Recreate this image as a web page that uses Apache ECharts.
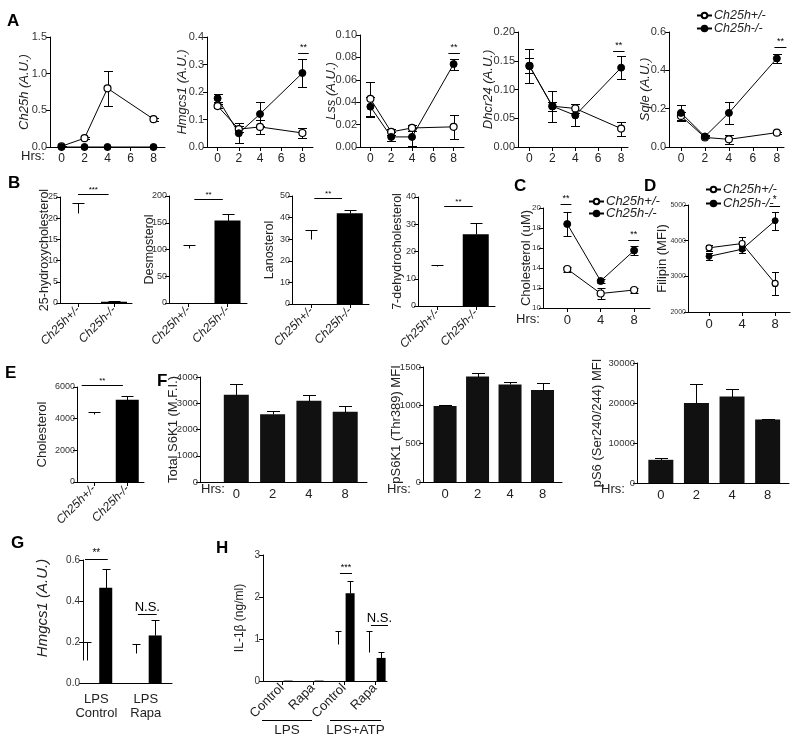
<!DOCTYPE html>
<html><head><meta charset="utf-8">
<script src="https://cdn.jsdelivr.net/npm/echarts@6/dist/echarts.min.js"></script>
<style>html,body{margin:0;padding:0;background:#fff}#c{width:800px;height:741px}</style>
</head><body><div id="c"></div>
<script>
// ================= DATA =================
const hrsA = [0, 2, 4, 8];
const hrsA_ticks = [0, 2, 4, 6, 8];
const ch25hHet = [0.01, 0.12, 0.80, 0.38];
const ch25hHetErr = [0.005, 0.015, 0.24, 0.02];
const ch25hKo = [0, 0, 0, 0];
const ch25hKoErr = [0, 0, 0, 0];
const hmgcs1Het = [0.149, 0.065, 0.073, 0.051];
const hmgcs1HetErr = [0.006, 0.012, 0.027, 0.017];
const hmgcs1Ko = [0.177, 0.05, 0.12, 0.269];
const hmgcs1KoErr = [0.014, 0.037, 0.045, 0.05];
const lssHet = [0.043, 0.0135, 0.017, 0.018];
const lssHetErr = [0.015, 0.003, 0.003, 0.011];
const lssKo = [0.036, 0.009, 0.009, 0.074];
const lssKoErr = [0.009, 0.004, 0.008, 0.005];
const dhcr24Het = [0.141, 0.071, 0.067, 0.032];
const dhcr24HetErr = [0.013, 0.008, 0.008, 0.012];
const dhcr24Ko = [0.141, 0.071, 0.055, 0.138];
const dhcr24KoErr = [0.03, 0.027, 0.019, 0.02];
const sqleHet = [0.162, 0.05, 0.04, 0.075];
const sqleHetErr = [0.022, 0.005, 0.022, 0.005];
const sqleKo = [0.178, 0.055, 0.178, 0.462];
const sqleKoErr = [0.04, 0.006, 0.059, 0.022];

const genotypes = ['Ch25h+/-', 'Ch25h-/-'];
const hydroxyChol = [21.3, 0.3];
const hydroxyCholErr = [2.4, 0.1];
const desmosterol = [103, 154];
const desmosterolErr = [5, 12];
const lanosterol = [30, 42];
const lanosterolErr = [4.3, 1.5];
const dehydroChol = [14.7, 26.3];
const dehydroCholErr = [0.4, 4];

const hrsC = [0, 4, 8];
const cholHet = [13.9, 11.45, 11.8];
const cholHetErr = [0.25, 0.55, 0.25];
const cholKo = [18.4, 12.7, 15.75];
const cholKoErr = [1.2, 0.2, 0.45];
const filipinHet = [3800, 3920, 2800];
const filipinHetErr = [90, 180, 330];
const filipinKo = [3560, 3760, 4560];
const filipinKoErr = [90, 100, 250];

const cholE = [4300, 5200];
const cholEErr = [100, 250];

const hrsF = ['0', '2', '4', '8'];
const totalS6K1 = [3320, 2580, 3100, 2680];
const totalS6K1Err = [430, 110, 230, 200];
const pS6K1 = [990, 1375, 1272, 1200];
const pS6K1Err = [8, 50, 28, 88];
const pS6 = [5800, 20000, 21600, 15900];
const pS6Err = [350, 4700, 1800, 200];

const groupsG = ['LPS\nControl', 'LPS\nRapa'];
const hmgcs1GHet = [0.11, 0.145];
const hmgcs1GHetErr = [0.09, 0.045];
const hmgcs1GKo = [0.465, 0.232];
const hmgcs1GKoErr = [0.09, 0.074];

const groupsH = ['Control', 'Rapa', 'Control', 'Rapa'];
const treatH = ['LPS', 'LPS+ATP'];
const il1bHet = [0, 0, 0.88, 0.69];
const il1bHetErr = [0, 0, 0.31, 0.51];
const il1bKo = [0.01, 0.01, 2.09, 0.55];
const il1bKoErr = [0, 0, 0.29, 0.14];

// ================= CHART =================
const FONT = '"Liberation Sans Narrow", "Arial Narrow", "Liberation Sans", Arial, sans-serif';
const LFONT = '"Liberation Sans", Arial, Helvetica, sans-serif';
const chart = echarts.init(document.getElementById('c'), null, {renderer: 'canvas'});
const grids = [], xAxes = [], yAxes = [], series = [];

function addPanel(o) {
  const i = grids.length;
  const [l, t, w, h] = o.rect;
  grids.push({left: l, top: t, width: w, height: h, containLabel: false, outerBoundsMode: 'none'});
  const xl = o.xLabels || o.xTicks.map(String);
  xAxes.push({
    gridIndex: i, type: 'value', min: o.xMin, max: o.xMax,
    splitLine: {show: false},
    axisLine: {show: true, onZero: false, lineStyle: {color: '#000', width: 1}},
    axisTick: {show: o.xTickShow !== false, customValues: o.xTicks, length: 4, lineStyle: {color: '#000'}},
    axisLabel: {
      customValues: o.xTicks,
      formatter: (v) => { const k = o.xTicks.findIndex(t => Math.abs(t - v) < 1e-9); return k >= 0 ? xl[k] : ''; },
      fontSize: o.xFont || 12, color: '#222', fontFamily: FONT, rotate: o.xRotate || 0,
      fontStyle: o.xItalic ? 'italic' : 'normal', margin: o.xMargin || 6, lineHeight: o.xLineHeight || undefined
    }
  });
  yAxes.push({
    gridIndex: i, type: 'value', min: o.yMin, max: o.yMax, interval: o.yInt,
    splitLine: {show: false},
    axisLine: {show: true, onZero: false, lineStyle: {color: '#000', width: 1}},
    axisTick: {show: true, length: 4, lineStyle: {color: '#000'}},
    axisLabel: {fontSize: o.yFont || 11, color: '#333', fontFamily: FONT, margin: o.yMargin || 3,
      formatter: v => o.yDec != null ? v.toFixed(o.yDec) : String(v)},
    name: o.yName || '', nameLocation: 'middle', nameGap: o.yGap || 30, nameRotate: 90, nameMoveOverlap: false,
    nameTextStyle: {fontSize: o.yNameFont || 13, fontStyle: o.yItalic ? 'italic' : 'normal', color: '#222', fontFamily: FONT}
  });
  return i;
}

function errBars(i, xs, m, e, cap, upper) {
  series.push({
    type: 'custom', xAxisIndex: i, yAxisIndex: i, z: 3, silent: true, animation: false,
    encode: {x: 0, y: 1},
    data: xs.map((x, k) => [x, m[k], e[k]]),
    renderItem: (params, api) => {
      const x = api.value(0), v = api.value(1), d = api.value(2);
      if (!d) return null;
      const top = api.coord([x, v + d]), bot = api.coord([x, upper ? v : v - d]);
      const hc = cap / 2, st = {stroke: '#000', lineWidth: 1};
      const cx = Math.round(top[0]) + 0.5;
      const ty = Math.round(top[1]) + 0.5, by = Math.round(bot[1]) + 0.5;
      const ch = [
        {type: 'line', shape: {x1: cx, y1: ty, x2: cx, y2: by}, style: st},
        {type: 'line', shape: {x1: cx - hc, y1: ty, x2: cx + hc, y2: ty}, style: st}
      ];
      if (!upper) ch.push({type: 'line', shape: {x1: cx - hc, y1: by, x2: cx + hc, y2: by}, style: st});
      return {type: 'group', children: ch};
    }
  });
}

function sig(i, items, font) {
  series.push({
    type: 'custom', xAxisIndex: i, yAxisIndex: i, z: 5, silent: true, animation: false,
    encode: {x: 0, y: 2},
    data: items.map(it => [it[0], it[1], it[2]]),
    renderItem: (params, api) => {
      const a = api.coord([api.value(0), api.value(2)]), b = api.coord([api.value(1), api.value(2)]);
      const y = Math.round(a[1]) + 0.5;
      return {type: 'group', children: [
        {type: 'line', shape: {x1: a[0], y1: y, x2: b[0], y2: y}, style: {stroke: '#000', lineWidth: 1}},
        {type: 'text', x: (a[0] + b[0]) / 2, y: y - 1,
          style: {text: items[params.dataIndex][3], fill: '#000', fontSize: font || 9, fontFamily: FONT, align: 'center', verticalAlign: 'bottom'}}
      ]};
    }
  });
}

function lines(i, xs, het, ko, size) {
  series.push({type: 'line', name: 'Ch25h+/-', xAxisIndex: i, yAxisIndex: i, data: xs.map((x, k) => [x, het[k]]),
    symbol: 'circle', symbolSize: size, lineStyle: {color: '#000', width: 1},
    itemStyle: {color: '#fff', borderColor: '#000', borderWidth: 1.2}, z: 4, animation: false, silent: true});
  series.push({type: 'line', name: 'Ch25h-/-', xAxisIndex: i, yAxisIndex: i, data: xs.map((x, k) => [x, ko[k]]),
    symbol: 'circle', symbolSize: size, lineStyle: {color: '#000', width: 1},
    itemStyle: {color: '#000', borderColor: '#000', borderWidth: 1}, z: 4, animation: false, silent: true});
}

function bars(i, xs, vals, colors, width) {
  series.push({type: 'bar', xAxisIndex: i, yAxisIndex: i, barWidth: width, animation: false, silent: true, z: 2,
    data: xs.map((x, k) => ({value: [x, vals[k]], itemStyle: {color: colors[k]}}))});
}

// ---- Panel A ----
const aPanels = [
  {rect: [50, 37, 115, 110], xMin: -1, xMax: 9, yMax: 1.5, yInt: 0.5, yDec: 1, name: 'Ch25h (A.U.)', gap: 19.5, het: ch25hHet, hetE: ch25hHetErr, ko: ch25hKo, koE: ch25hKoErr, sig: null},
  {rect: [207, 37, 106, 110], xMin: -1, xMax: 9, yMax: 0.4, yInt: 0.1, yDec: 1, name: 'Hmgcs1 (A.U.)', gap: 18.5, het: hmgcs1Het, hetE: hmgcs1HetErr, ko: hmgcs1Ko, koE: hmgcs1KoErr, sig: [7.6, 8.6, 0.342, '**']},
  {rect: [360, 35, 104, 112], xMin: -1, xMax: 9, yMax: 0.1, yInt: 0.02, yDec: 2, name: 'Lss (A.U.)', gap: 22.5, het: lssHet, hetE: lssHetErr, ko: lssKo, koE: lssKoErr, sig: [7.5, 8.6, 0.084, '**']},
  {rect: [518, 32, 110, 115], xMin: -1, xMax: 8.6, yMax: 0.2, yInt: 0.05, yDec: 2, name: 'Dhcr24 (A.U.)', gap: 23.5, het: dhcr24Het, hetE: dhcr24HetErr, ko: dhcr24Ko, koE: dhcr24KoErr, sig: [7.3, 8.3, 0.167, '**']},
  {rect: [669, 32, 115, 115], xMin: -1, xMax: 8.6, yMax: 0.6, yInt: 0.2, yDec: 1, name: 'Sqle (A.U.)', gap: 17.5, het: sqleHet, hetE: sqleHetErr, ko: sqleKo, koE: sqleKoErr, sig: [7.8, 8.8, 0.52, '**']}
];
aPanels.forEach(p => {
  const i = addPanel({rect: p.rect, xMin: p.xMin, xMax: p.xMax, xTicks: hrsA_ticks, xFont: 12,
    yMin: 0, yMax: p.yMax, yInt: p.yInt, yDec: p.yDec, yFont: 11, yName: p.name, yGap: p.gap, yItalic: true, yNameFont: 13});
  errBars(i, hrsA, p.het, p.hetE, 9, false);
  errBars(i, hrsA, p.ko, p.koE, 9, false);
  lines(i, hrsA, p.het, p.ko, 7);
  if (p.sig) sig(i, [p.sig], 9);
});

// ---- Panel B ----
const bPanels = [
  {rect: [60, 197, 72, 106], yMax: 25, yInt: 5, name: '25-hydroxycholesterol', gap: 9, v: hydroxyChol, e: hydroxyCholErr, sig: [0, 0.85, 25.7, '***']},
  {rect: [169, 196, 78, 107], yMax: 200, yInt: 50, name: 'Desmosterol', gap: 13, v: desmosterol, e: desmosterolErr, sig: [0.15, 0.88, 194, '**']},
  {rect: [292, 196, 77, 108], yMax: 50, yInt: 10, name: 'Lanosterol', gap: 16, v: lanosterol, e: lanosterolErr, sig: [0.08, 0.8, 49, '**']},
  {rect: [418, 197, 77, 109], yMax: 40, yInt: 10, name: '7-dehydrocholesterol', gap: 14, v: dehydroChol, e: dehydroCholErr, sig: [0.18, 0.92, 36.7, '**']}
];
bPanels.forEach(p => {
  const i = addPanel({rect: p.rect, xMin: -0.5, xMax: 1.5, xTicks: [0, 1], xLabels: genotypes, xFont: 12, xRotate: 45, xItalic: true, xMargin: 5,
    yMin: 0, yMax: p.yMax, yInt: p.yInt, yFont: 9, yMargin: 2, yName: p.name, yGap: p.gap, yNameFont: 12.5});
  bars(i, [0, 1], p.v, ['#fff', '#000'], 26);
  errBars(i, [0, 1], p.v, p.e, 12, true);
  sig(i, [p.sig], 8);
});

// ---- Panel C ----
{
  const i = addPanel({rect: [543, 208, 107, 100], xMin: -2.9, xMax: 9.9, xTicks: hrsC, xFont: 13,
    yMin: 10, yMax: 20, yInt: 2, yFont: 8, yMargin: 2, yName: 'Cholesterol (uM)', yGap: 10, yNameFont: 13});
  errBars(i, hrsC, cholHet, cholHetErr, 8, false);
  errBars(i, hrsC, cholKo, cholKoErr, 8, false);
  lines(i, hrsC, cholHet, cholKo, 7);
  sig(i, [[-0.8, 0.5, 20.4, '**'], [7.3, 8.6, 16.8, '**']], 9);
}
// ---- Panel D ----
{
  const i = addPanel({rect: [688, 205, 102, 107], xMin: -2.55, xMax: 9.8, xTicks: hrsC, xFont: 13,
    yMin: 2000, yMax: 5000, yInt: 1000, yFont: 7, yMargin: 2, yName: 'Filipin (MFI)', yGap: 19, yNameFont: 13});
  errBars(i, hrsC, filipinHet, filipinHetErr, 7, false);
  errBars(i, hrsC, filipinKo, filipinKoErr, 7, false);
  lines(i, hrsC, filipinHet, filipinKo, 6);
  sig(i, [[7.3, 8.6, 4970, '*']], 10);
}
// ---- Panel E ----
{
  const i = addPanel({rect: [77, 387, 67, 95], xMin: -0.5, xMax: 1.5, xTicks: [0, 1], xLabels: genotypes, xFont: 12, xRotate: 45, xItalic: true, xMargin: 5,
    yMin: 0, yMax: 6000, yInt: 2000, yFont: 9, yMargin: 2, yName: 'Cholesterol', yGap: 28.5, yNameFont: 13});
  bars(i, [0, 1], cholE, ['#fff', '#000'], 23);
  errBars(i, [0, 1], cholE, cholEErr, 12, true);
  sig(i, [[-0.36, 0.87, 6126, '**']], 8);
}
// ---- Panel F ----
const fPos = [0, 1, 2, 3];
const fPanels = [
  {rect: [200, 377, 167, 105], xMin: -1, xMax: 3.6, yMax: 4000, yInt: 1000, name: 'Total S6K1 (M.F.I.)', gap: 20.5, nf: 13, v: totalS6K1, e: totalS6K1Err, bw: 25},
  {rect: [423, 367, 139, 115], xMin: -0.68, xMax: 3.6, yMax: 1500, yInt: 500, name: 'pS6K1 (Thr389) MFI', gap: 20, nf: 13, v: pS6K1, e: pS6K1Err, bw: 23},
  {rect: [637, 363, 152, 120], xMin: -0.67, xMax: 3.6, yMax: 30000, yInt: 10000, name: 'pS6 (Ser240/244) MFI', gap: 33.5, nf: 13, v: pS6, e: pS6Err, bw: 25}
];
fPanels.forEach(p => {
  const i = addPanel({rect: p.rect, xMin: p.xMin, xMax: p.xMax, xTicks: fPos, xLabels: hrsF, xFont: 13, xTickShow: false,
    yMin: 0, yMax: p.yMax, yInt: p.yInt, yFont: 9.5, yMargin: 2, yName: p.name, yGap: p.gap, yNameFont: p.nf});
  bars(i, fPos, p.v, p.v.map(() => '#111'), p.bw);
  errBars(i, fPos, p.v, p.e, 13, true);
});

// ---- Panel G ----
{
  const gx = [0, 1];
  const i = addPanel({rect: [83, 560, 89, 123], xMin: -0.27, xMax: 1.53, xTicks: gx, xLabels: groupsG, xFont: 13, xTickShow: false, xMargin: 9, xLineHeight: 14,
    yMin: 0, yMax: 0.6, yInt: 0.2, yDec: 1, yFont: 10, yName: '', yGap: 40});
  const xs = [], vals = [], errs = [], cols = [];
  gx.forEach((g, k) => { xs.push(g - 0.19, g + 0.19); vals.push(hmgcs1GHet[k], hmgcs1GKo[k]); errs.push(hmgcs1GHetErr[k], hmgcs1GKoErr[k]); cols.push('#fff', '#000'); });
  bars(i, xs, vals, cols, 13);
  errBars(i, xs, vals, errs, 8, true);
  sig(i, [[-0.23, 0.23, 0.605, '**']], 10);
  sig(i, [[0.84, 1.22, 0.337, 'N.S.']], 13);
}
// ---- Panel H ----
{
  const hx = [0, 1, 2, 3];
  const i = addPanel({rect: [263, 555, 124, 126], xMin: -0.61, xMax: 3.39, xTicks: hx, xLabels: groupsH, xFont: 13, xRotate: 45, xMargin: 5,
    yMin: 0, yMax: 3, yInt: 1, yFont: 10, yName: 'IL-1\u03b2 (ng/ml)', yGap: 17, yNameFont: 12});
  const xs = [], vals = [], errs = [], cols = [];
  hx.forEach((g, k) => { xs.push(g - 0.2, g + 0.2); vals.push(il1bHet[k], il1bKo[k]); errs.push(il1bHetErr[k], il1bKoErr[k]); cols.push('#fff', '#000'); });
  bars(i, xs, vals, cols, 9);
  errBars(i, xs, vals, errs, 6, true);
  sig(i, [[1.87, 2.26, 2.57, '***']], 9);
  sig(i, [[2.87, 3.42, 1.33, 'N.S.']], 13);
}

// ---- graphic (panel letters, Hrs labels, group labels) ----
const letterFont = 'bold 17px ' + LFONT;
const graphic = [];
[['A', 7, 13], ['B', 8, 175], ['C', 514, 178], ['D', 644, 178], ['E', 5, 365], ['F', 157, 373], ['G', 11, 535], ['H', 216, 540]]
  .forEach(([t, x, y]) => graphic.push({type: 'text', left: x, top: y, style: {text: t, font: letterFont, fill: '#000'}}));
[[21, 150], [516, 313], [201, 483], [387, 483], [601, 483]]
  .forEach(([x, y]) => graphic.push({type: 'text', left: x, top: y, style: {text: 'Hrs:', font: '13px ' + FONT, fill: '#222'}}));
graphic.push({type: 'text', x: 43, y: 608, rotation: Math.PI / 2,
  style: {text: 'Hmgcs1 (A.U.)', font: 'italic 15px ' + FONT, fill: '#222', align: 'center', verticalAlign: 'middle'}});
[[262, 312, treatH[0]], [330, 381, treatH[1]]].forEach(([x1, x2, t]) => {
  graphic.push({type: 'line', shape: {x1: x1, y1: 720.5, x2: x2, y2: 720.5}, style: {stroke: '#000', lineWidth: 1}});
  graphic.push({type: 'text', x: (x1 + x2) / 2, y: 723, style: {text: t, font: '13.5px ' + FONT, fill: '#222', align: 'center', verticalAlign: 'top'}});
});

function legendAt(left, top, fs, gap) {
  return {orient: 'vertical', selectedMode: false, itemWidth: 15, itemHeight: 7, itemGap: gap, left: left, top: top,
    data: ['Ch25h+/-', 'Ch25h-/-'],
    textStyle: {fontStyle: 'italic', fontSize: fs, color: '#222', fontFamily: FONT, padding: [0, 0, 0, -3]}};
}

chart.setOption({
  animation: false,
  backgroundColor: '#fff',
  grid: grids, xAxis: xAxes, yAxis: yAxes, series: series,
  legend: [legendAt(691, 4, 12.5, 0), legendAt(583, 190, 13, -1), legendAt(700, 178, 13, 1)],
  graphic: graphic
});
</script></body></html>
